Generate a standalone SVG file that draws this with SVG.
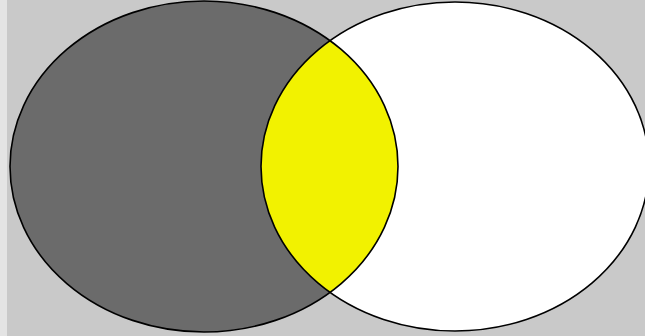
<svg xmlns="http://www.w3.org/2000/svg" width="645" height="336" viewBox="0 0 645 336">
<style>
.edge{fill:none;stroke:#000;stroke-width:1.6}
</style>
<defs>
<clipPath id="clipLeft"><ellipse cx="204" cy="166.5" rx="194" ry="165.5"/></clipPath>
</defs>
<rect x="0" y="0" width="645" height="336" fill="#c9c9c9"/>
<rect x="0" y="0" width="7" height="336" fill="#e4e4e4"/>
<g id="left">
<ellipse cx="204" cy="166.5" rx="194" ry="165.5" fill="#6b6b6b"/>
</g>
<g id="right">
<ellipse cx="455" cy="166.5" rx="194" ry="164.5" fill="#ffffff"/>
</g>
<g id="intersection">
<ellipse cx="455" cy="166.5" rx="194" ry="164.5" fill="#f2f200" clip-path="url(#clipLeft)"/>
</g>
<g id="connectors">
<ellipse class="edge" cx="204" cy="166.5" rx="194" ry="165.5"/>
<ellipse class="edge" cx="455" cy="166.5" rx="194" ry="164.5"/>
</g>
</svg>
